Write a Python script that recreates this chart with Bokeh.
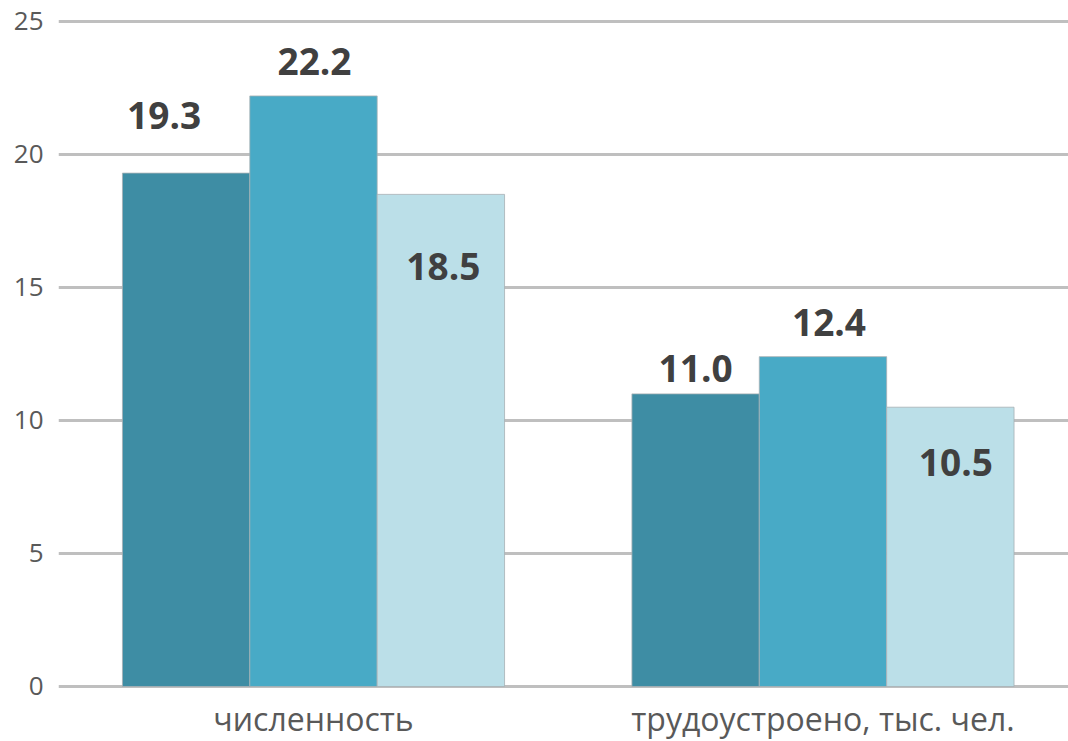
from bokeh.plotting import figure
from bokeh.models import Range1d, FixedTicker, ColumnDataSource
from bokeh.core.properties import value
from bokeh.embed import file_html
from bokeh.resources import INLINE

# ---- data ----
categories = ["численность", "трудоустроено, тыс. чел."]
series_1 = [19.3, 11.0]
series_2 = [22.2, 12.4]
series_3 = [18.5, 10.5]
y_ticks = [0, 5, 10, 15, 20, 25]

# ---- styles ----
colors = ["#3E8DA4", "#48AAC6", "#BBDFE8"]
dodge = [-0.25, 0.0, 0.25]
bar_w = 0.25
label_dx = [[-22, 0], [1, 6], [2.5, 5.5]]
label_dy = [[-57.5, -25.5], [-34.5, -34.5], [72, 55]]
cat_label_dy = 32

p = figure(width=1068, height=741, output_backend="svg", toolbar_location=None,
           x_range=Range1d(-0.5005, 1.4819), y_range=Range1d(-2.068, 25.789),
           min_border_left=58, min_border_right=0, min_border_top=0, min_border_bottom=0)
p.outline_line_color = None
p.background_fill_color = "white"
p.border_fill_color = "white"

for k, vals in enumerate([series_1, series_2, series_3]):
    xs = [i + dodge[k] for i in range(len(categories))]
    src = ColumnDataSource(dict(x=xs, top=vals, lab=[f"{v:.1f}" for v in vals],
                                dx=label_dx[k], dy=label_dy[k]))
    p.vbar(x="x", top="top", width=bar_w, bottom=0, source=src,
           fill_color=colors[k], line_color="#A8B0B4", line_width=1, line_alpha=0.8)
    p.text(x="x", y="top", text="lab", x_offset="dx", y_offset="dy", source=src,
           text_align="center", text_baseline="middle",
           text_font=value("Open Sans"), text_font_style="bold",
           text_font_size="37px", text_color="#404040")

# category labels under the groups
cat_src = ColumnDataSource(dict(x=list(range(len(categories))), y=[0] * len(categories),
                                t=categories))
p.text(x="x", y="y", text="t", source=cat_src, y_offset=cat_label_dy,
       text_align="center", text_baseline="alphabetic",
       text_font=value("Open Sans"), text_font_size="32px", text_color="#595959")

# grid
p.xgrid.visible = False
p.ygrid.ticker = FixedTicker(ticks=y_ticks)
p.ygrid.grid_line_color = "#BFBFBF"
p.ygrid.grid_line_width = 3
p.ygrid.level = "underlay"

# y axis
p.yaxis.ticker = FixedTicker(ticks=y_ticks)
p.yaxis.axis_line_color = None
p.yaxis.major_tick_line_color = None
p.yaxis.minor_tick_line_color = None
p.yaxis.major_tick_out = 0
p.yaxis.major_label_standoff = 15
p.yaxis.major_label_text_font = "Open Sans"
p.yaxis.major_label_text_font_size = "26px"
p.yaxis.major_label_text_color = "#595959"

# x axis (labels drawn as text under the groups)
p.xaxis.visible = False

open("out.html", "w").write(file_html(p, INLINE))
